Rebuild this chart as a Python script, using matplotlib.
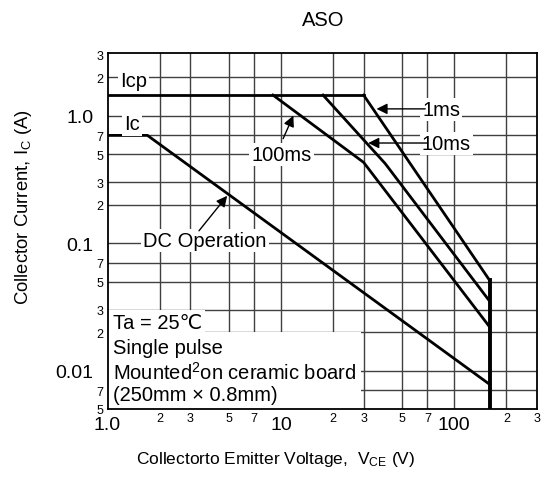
import matplotlib
matplotlib.use("Agg")
import matplotlib.pyplot as plt
from matplotlib.ticker import FixedLocator, FixedFormatter
from matplotlib.patches import Rectangle

plt.rcParams['font.family'] = ['Liberation Sans', 'DejaVu Sans']
plt.rcParams['mathtext.fontset'] = 'custom'
plt.rcParams['mathtext.rm'] = 'Liberation Sans'
plt.rcParams['mathtext.it'] = 'Liberation Sans:italic'

# ---- data ----
icp = 1.45
ic = 0.7
vceo = 160

icp_v = [1.0, 30]
icp_i = [icp, icp]
dc_v = [1.0, 1.7, 160]
dc_i = [ic, ic, 0.0078]
ms100_v = [9, 30, 160]
ms100_i = [icp, 0.43, 0.022]
ms10_v = [17.5, 40, 160]
ms10_i = [icp, 0.42, 0.035]
ms1_v = [30, 160]
ms1_i = [icp, 0.051]
vceo_v = [vceo, vceo]
vceo_i = [0.051, 0.005]

x_major = [1, 10, 100]
x_major_labels = ["1.0", "10", "100"]
x_minor = [2, 3, 5, 7, 20, 30, 50, 70, 200, 300]
x_minor_labels = ["2", "3", "5", "7", "2", "3", "5", "7", "2", "3"]
y_major = [0.01, 0.1, 1.0]
y_major_labels = ["0.01", "0.1", "1.0"]
y_minor = [0.005, 0.007, 0.02, 0.03, 0.05, 0.07, 0.2, 0.3, 0.5, 0.7, 2, 3]
y_minor_labels = ["5", "7", "2", "3", "5", "7", "2", "3", "5", "7", "2", "3"]
x_grid = [2, 3, 5, 7, 10, 20, 30, 50, 70, 100, 200]
y_grid = [0.007, 0.01, 0.02, 0.03, 0.05, 0.07, 0.1, 0.2, 0.3, 0.5, 0.7, 1.0, 2.0]

fig = plt.figure(figsize=(5.42, 4.89), dpi=100)
ax = fig.add_axes([107.5 / 542, 1 - 410 / 489, (537 - 107.5) / 542, (410 - 54) / 489])
ax.set_xscale('log')
ax.set_yscale('log')
ax.set_xlim(1, 300)
ax.set_ylim(0.005, 3.1)

# grid
for gx in x_grid:
    ax.axvline(gx, color='#404040', lw=1.0, zorder=0.5)
for gy in y_grid:
    ax.axhline(gy, color='#404040', lw=1.0, zorder=0.5)

# ticks
ax.xaxis.set_major_locator(FixedLocator(x_major))
ax.xaxis.set_major_formatter(FixedFormatter(x_major_labels))
ax.xaxis.set_minor_locator(FixedLocator(x_minor))
ax.xaxis.set_minor_formatter(FixedFormatter(x_minor_labels))
ax.yaxis.set_major_locator(FixedLocator(y_major))
ax.yaxis.set_major_formatter(FixedFormatter(y_major_labels))
ax.yaxis.set_minor_locator(FixedLocator(y_minor))
ax.yaxis.set_minor_formatter(FixedFormatter(y_minor_labels))
ax.tick_params(which='both', length=0)
ax.tick_params(axis='x', which='major', labelsize=14, pad=5)
ax.tick_params(axis='x', which='minor', labelsize=9, pad=2)
ax.tick_params(axis='y', which='major', labelsize=14, pad=10)
ax.tick_params(axis='y', which='minor', labelsize=9, pad=3)
for s in ax.spines.values():
    s.set_linewidth(1.3)

# white boxes behind the conditions text
ax.add_patch(Rectangle((1.0, 0.02), 3.65 - 1.0, 0.03 - 0.02, facecolor='white', edgecolor='none', zorder=1))
ax.add_patch(Rectangle((1.0, 0.005), 29 - 1.0, 0.02 - 0.005, facecolor='white', edgecolor='none', zorder=1))

# curves
lw = 2.0
ax.plot(icp_v, icp_i, color='black', lw=lw, zorder=3)
ax.plot(dc_v, dc_i, color='black', lw=lw, zorder=3)
ax.plot(ms100_v, ms100_i, color='black', lw=lw, zorder=3)
ax.plot(ms10_v, ms10_i, color='black', lw=lw, zorder=3)
ax.plot(ms1_v, ms1_i, color='black', lw=lw, zorder=3)
ax.plot(vceo_v, vceo_i, color='black', lw=2.8, zorder=3)

box = dict(facecolor='white', edgecolor='none', pad=1.5)
fs = 14.5
ax.text(1.42, 1.87, "Icp", fontsize=fs, ha='center', va='center', bbox=box, zorder=4)
ax.text(1.38, 0.86, "Ic", fontsize=fs, ha='center', va='center', bbox=box, zorder=4)
ax.text(3.65, 0.104, "DC Operation", fontsize=fs, ha='center', va='center', bbox=box, zorder=4)
ax.text(10.1, 0.5, "100ms", fontsize=fs, ha='center', va='center', bbox=box, zorder=4)
ax.text(84, 1.11, "1ms", fontsize=fs, ha='center', va='center', bbox=box, zorder=4)
ax.text(90, 0.60, "10ms", fontsize=fs, ha='center', va='center', bbox=box, zorder=4)

arr = dict(arrowstyle='-|>', color='black', lw=1.0, mutation_scale=16, shrinkA=0, shrinkB=0)
ax.annotate("", xy=(4.9, 0.235), xytext=(3.37, 0.125), arrowprops=arr, zorder=4)
ax.annotate("", xy=(11.8, 1.0), xytext=(10.3, 0.66), arrowprops=arr, zorder=4)
ax.annotate("", xy=(35.6, 1.13), xytext=(68, 1.13), arrowprops=arr, zorder=4)
ax.annotate("", xy=(31.9, 0.61), xytext=(70, 0.61), arrowprops=arr, zorder=4)

# condition text
ax.text(1.07, 0.0238, "Ta = 25\u2103", fontsize=fs, ha='left', va='center', zorder=4)
ax.text(1.07, 0.0153, "Single pulse", fontsize=fs, ha='left', va='center', zorder=4)
ax.text(1.07, 0.0098, "Mounted$^{2}$on ceramic board", fontsize=fs, ha='left', va='center', zorder=4)
ax.text(1.07, 0.0065, "(250mm \u00d7 0.8mm)", fontsize=fs, ha='left', va='center', zorder=4)

fig.text(323 / 542, 1 - 20 / 489, "ASO", fontsize=14.5, ha='center', va='center')
fig.text(276 / 542, 1 - 460 / 489, "Collectorto Emitter Voltage,  V$_\\mathrm{CE}$ (V)",
         fontsize=12.5, ha='center', va='center')
fig.text(24 / 542, 1 - 207 / 489, "Collector Current, I$_\\mathrm{C}$ (A)",
         fontsize=13.3, ha='center', va='center', rotation=90)

fig.savefig("out.png", dpi=100, facecolor='white')
